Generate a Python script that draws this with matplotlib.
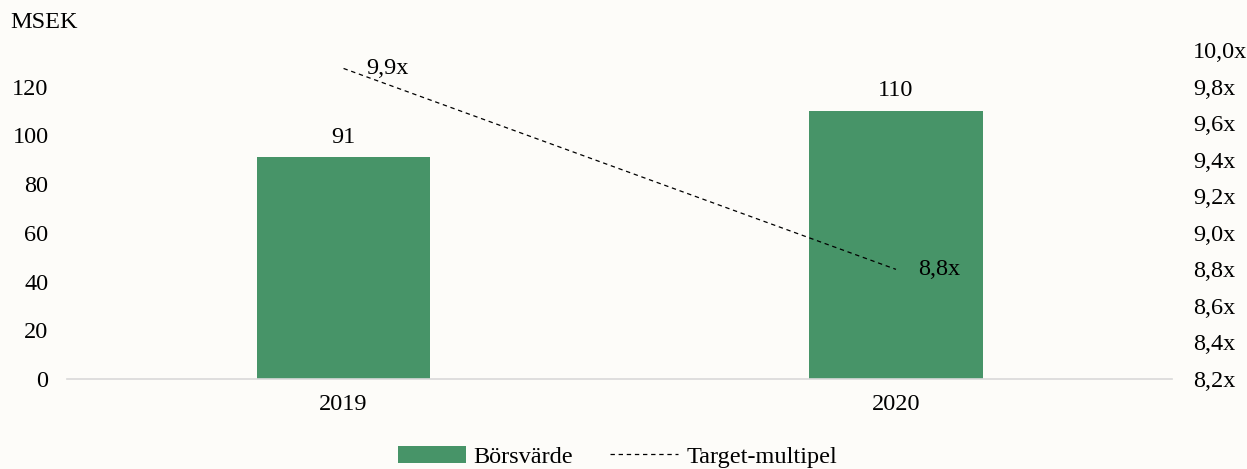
import matplotlib
matplotlib.use("Agg")
import matplotlib.pyplot as plt
from matplotlib.patches import Patch
from matplotlib.lines import Line2D

years = ["2019", "2020"]
borsvarde = [91, 110]
target_multipel = [9.9, 8.8]
left_ticks = [0, 20, 40, 60, 80, 100, 120]
right_ticks = [8.2, 8.4, 8.6, 8.8, 9.0, 9.2, 9.4, 9.6, 9.8, 10.0]

BG = "#fdfcf9"
GREEN = "#479468"

plt.rcParams["font.family"] = ["Liberation Serif", "DejaVu Serif"]
plt.rcParams["font.size"] = 17.5

fig = plt.figure(figsize=(12.47, 4.69), dpi=100, facecolor=BG)
ax = fig.add_axes([0.054, 0.192, 0.886, 0.701])
ax.set_facecolor(BG)
x = list(range(len(years)))

bars = ax.bar(x, borsvarde, width=0.314, color=GREEN, zorder=2)
for xi, v in zip(x, borsvarde):
    ax.annotate(str(v), (xi, v), xytext=(0, 7), textcoords="offset points",
                ha="center", va="bottom")

ax.set_xlim(-0.5, 1.5)
ax.set_ylim(0, 135)
ax.set_yticks(left_ticks)
ax.set_xticks(x)
ax.set_xticklabels(years)
ax.tick_params(axis="y", length=0, pad=13.5)
ax.tick_params(axis="x", length=0, pad=11)
for s in ["top", "right", "left"]:
    ax.spines[s].set_visible(False)
ax.spines["bottom"].set_color("#d9d9d9")
ax.spines["bottom"].set_linewidth(1.2)

ax2 = ax.twinx()
ax2.plot(x, target_multipel, color="black", lw=0.9, ls=(0, (3.5, 3)), zorder=3)
ax2.set_ylim(8.2, 10.0)
ax2.set_yticks(right_ticks)
ax2.set_yticklabels([f"{t:.1f}x".replace(".", ",") for t in right_ticks])
ax2.tick_params(axis="y", length=0, pad=15)
for s in ["top", "right", "left", "bottom"]:
    ax2.spines[s].set_visible(False)
for xi, v in zip(x, target_multipel):
    ax2.annotate(f"{v:.1f}x".replace(".", ","), (xi, v), xytext=(16, 0),
                 textcoords="offset points", ha="left", va="center")

fig.text(0.008, 0.953, "MSEK", ha="left", va="center")

handles = [Patch(facecolor=GREEN, edgecolor="none"),
           Line2D([0], [0], color="black", lw=0.9, ls=(0, (3.5, 3)))]
fig.legend(handles, ["Börsvärde", "Target-multipel"], loc="center",
           bbox_to_anchor=(0.495, 0.026), ncol=2, frameon=False,
           handlelength=2.8, handletextpad=0.33, columnspacing=1.52)

fig.savefig("out.png", dpi=100, facecolor=BG)
